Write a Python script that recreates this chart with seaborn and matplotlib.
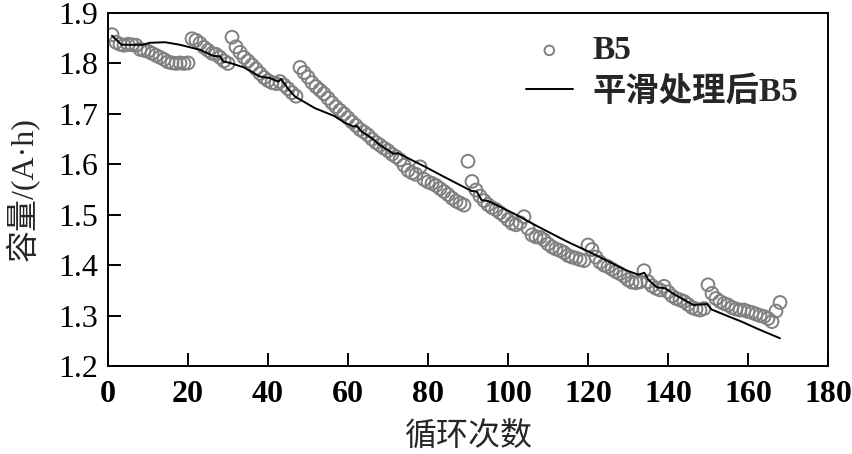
import numpy as np
import pandas as pd
import matplotlib
matplotlib.use("Agg")
import matplotlib.pyplot as plt
import seaborn as sns

# ---- data ----
cycles = list(range(1, 169))
capacity = [
    1.857, 1.842, 1.838, 1.836, 1.838, 1.837, 1.836, 1.828, 1.826, 1.824,
    1.820, 1.816, 1.812, 1.808, 1.803, 1.801, 1.800, 1.801, 1.800, 1.801,
    1.849, 1.846, 1.840, 1.832, 1.826, 1.820, 1.818, 1.812, 1.805, 1.800,
    1.852, 1.833, 1.822, 1.812, 1.805, 1.797, 1.789, 1.780, 1.772, 1.766,
    1.762, 1.760, 1.764, 1.757, 1.750, 1.742, 1.735, 1.792, 1.782, 1.773,
    1.762, 1.754, 1.747, 1.740, 1.731, 1.722, 1.714, 1.707, 1.700, 1.692,
    1.684, 1.677, 1.669, 1.664, 1.658, 1.650, 1.643, 1.638, 1.632, 1.627,
    1.620, 1.615, 1.609, 1.598, 1.588, 1.583, 1.580, 1.595, 1.570, 1.565,
    1.562, 1.558, 1.552, 1.546, 1.540, 1.533, 1.527, 1.523, 1.519, 1.606,
    1.566, 1.549, 1.537, 1.528, 1.520, 1.514, 1.510, 1.504, 1.498, 1.490,
    1.483, 1.480, 1.484, 1.496, 1.473, 1.460, 1.456, 1.455, 1.450, 1.442,
    1.436, 1.432, 1.429, 1.425, 1.419, 1.416, 1.414, 1.411, 1.409, 1.440,
    1.431, 1.416, 1.406, 1.400, 1.397, 1.392, 1.387, 1.383, 1.378, 1.371,
    1.366, 1.365, 1.367, 1.389, 1.367, 1.359, 1.354, 1.351, 1.358, 1.347,
    1.339, 1.334, 1.331, 1.328, 1.322, 1.316, 1.313, 1.311, 1.314, 1.361,
    1.344, 1.334, 1.328, 1.324, 1.321, 1.316, 1.313, 1.311, 1.311, 1.308,
    1.306, 1.303, 1.300, 1.298, 1.294, 1.288, 1.309, 1.326,
]

smooth_x = [1, 3.4, 8.7, 10.5, 14.3, 18, 23, 26.3, 28, 28.8, 30.5, 34, 38,
            40.5, 42.5, 43.3, 45, 46.8, 51.8, 56.5, 59.3, 61.3, 62.2, 63.4,
            65.9, 68, 71.3, 72.5, 79.3, 83.8, 90.9, 92.2, 93.4, 95.1, 101.8,
            107.6, 114.7, 120.9, 129.5, 132.6, 134.1, 135.1, 137.2, 139.3,
            141.8, 146.3, 149.7, 150.9, 154.3, 158.4, 162.6, 168]
smooth_y = [1.855, 1.837, 1.837, 1.841, 1.842, 1.837, 1.827, 1.815, 1.814,
            1.804, 1.801, 1.792, 1.774, 1.771, 1.764, 1.769, 1.750, 1.734,
            1.711, 1.696, 1.682, 1.675, 1.676, 1.665, 1.652, 1.638, 1.621,
            1.622, 1.595, 1.576, 1.547, 1.546, 1.529, 1.527, 1.501, 1.476,
            1.447, 1.424, 1.390, 1.381, 1.385, 1.371, 1.356, 1.354, 1.341,
            1.321, 1.323, 1.312, 1.301, 1.288, 1.273, 1.255]

xticks = [0, 20, 40, 60, 80, 100, 120, 140, 160, 180]
yticks = [1.2, 1.3, 1.4, 1.5, 1.6, 1.7, 1.8, 1.9]
yticklabels = ["1.2", "1.3", "1.4", "1.5", "1.6", "1.7", "1.8", "1.9"]

sns.set_style("ticks")
plt.rcParams['font.family'] = ['Liberation Serif', 'Noto Sans CJK SC']
plt.rcParams['axes.unicode_minus'] = False

df_pts = pd.DataFrame({"cycle": cycles, "cap": capacity})
df_line = pd.DataFrame({"cycle": smooth_x, "cap": smooth_y})

fig = plt.figure(figsize=(8.53, 4.54), dpi=100)
ax = fig.add_axes([108 / 853, 88 / 454, 720 / 853, 353 / 454])

sns.scatterplot(data=df_pts, x="cycle", y="cap", ax=ax, marker="o",
                s=85, facecolor="none", edgecolor="#808080", linewidth=1.4,
                label="B5", zorder=2)
sns.lineplot(data=df_line, x="cycle", y="cap", ax=ax, color="black",
             linewidth=1.4, label="平滑处理后B5", zorder=3, sort=False,
             estimator=None)

ax.set_xlim(0, 180)
ax.set_ylim(1.2, 1.9)
ax.set_xticks(xticks)
ax.set_yticks(yticks)
ax.set_yticklabels(yticklabels)
ax.tick_params(direction="in", length=9.5, width=1.4, labelsize=23,
               top=False, right=False, color="black", labelcolor="black")
ax.tick_params(axis="x", pad=10)
ax.tick_params(axis="y", pad=7)
for lbl in ax.get_xticklabels():
    lbl.set_fontweight("bold")
for sp in ax.spines.values():
    sp.set_visible(True)
    sp.set_linewidth(1.4)
    sp.set_color("black")

ax.set_xlabel("循环次数", fontsize=23, labelpad=10)
ax.set_ylabel("容量/(A·h)", fontsize=23, labelpad=14)

leg = ax.legend(loc="upper left", bbox_to_anchor=(0.562, 0.975), frameon=False,
                prop={"size": 24, "weight": "bold"}, handlelength=1.4,
                handletextpad=0.6, labelspacing=0.3, borderaxespad=0,
                markerscale=0.75)

fig.savefig("out.png", dpi=100)
